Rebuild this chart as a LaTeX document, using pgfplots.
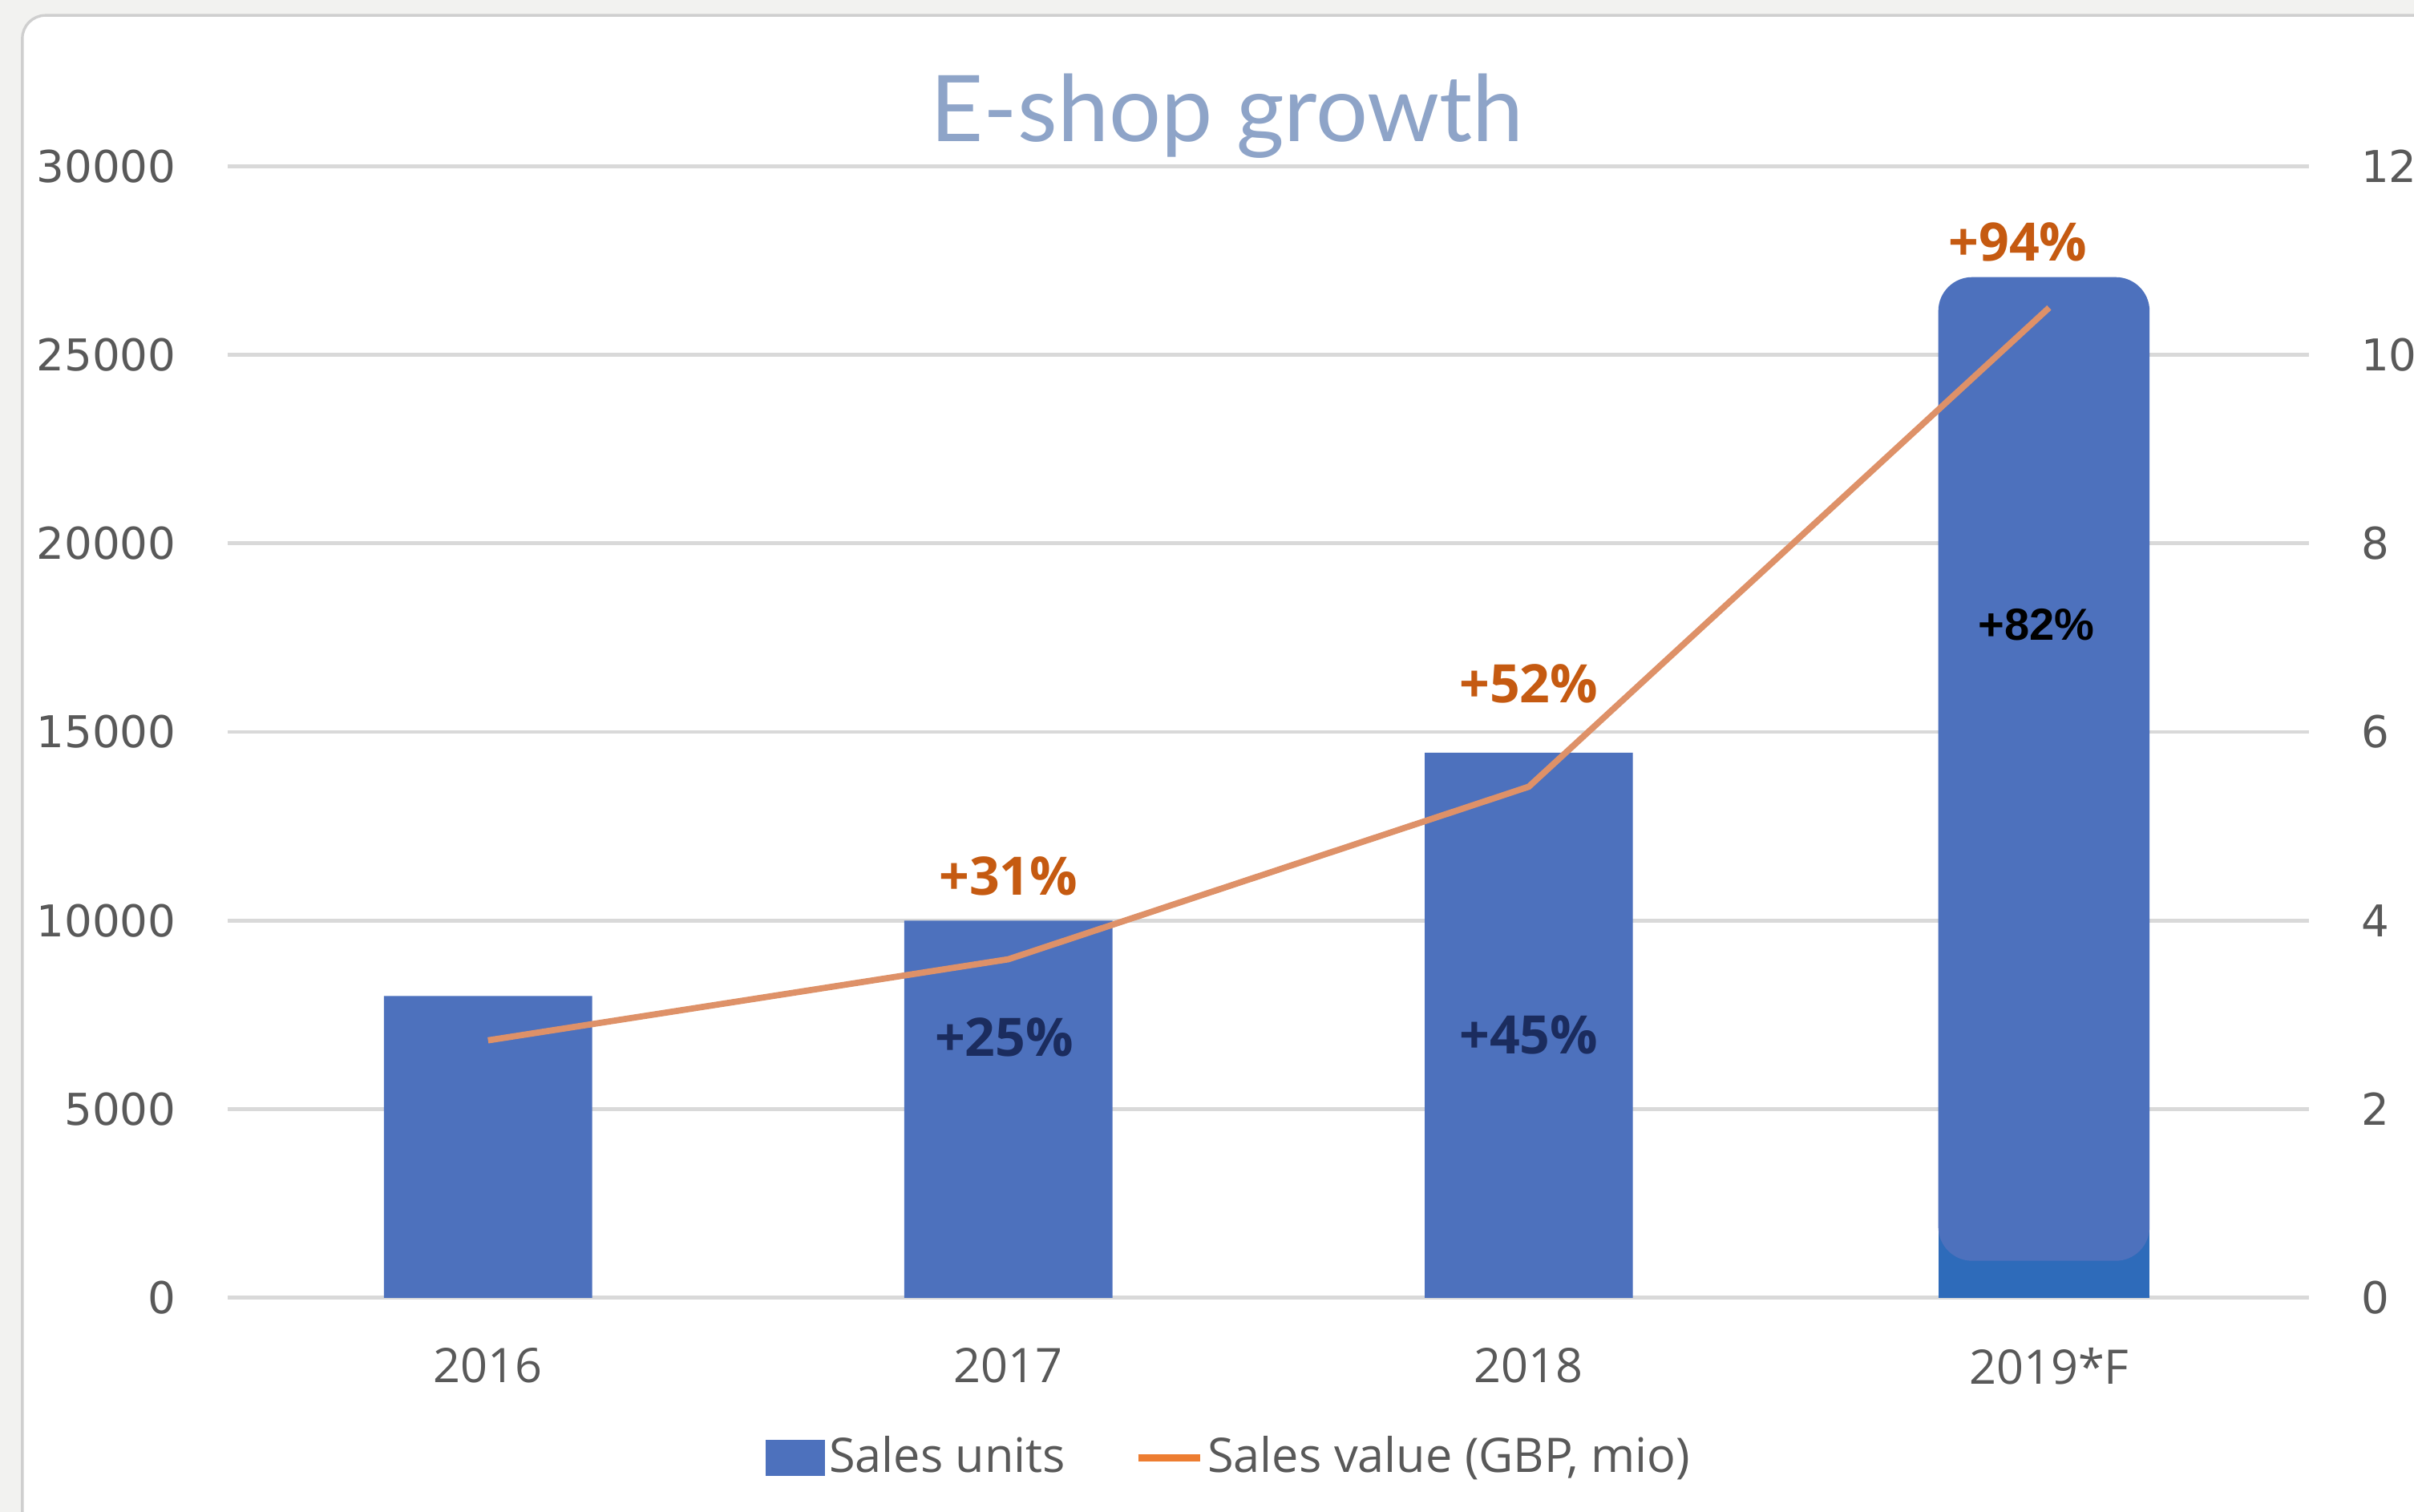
\documentclass[border=0pt]{standalone}
\usepackage{pgfplots}
\pgfplotsset{compat=1.18}
\usepackage{fontspec}
\setmainfont{Open Sans}
\newfontfamily\tickfont{DejaVu Sans}
\newfontfamily\titlefont{Lato}
\newfontfamily\arialfont{Liberation Sans}
\definecolor{barblue}{HTML}{4D71BD}
\definecolor{darkblue}{HTML}{2E6BBA}
\definecolor{linecol}{HTML}{DE9168}
\definecolor{legline}{HTML}{ED7D31}
\definecolor{pctorange}{HTML}{C55A11}
\definecolor{pctnavy}{HTML}{1B2C5E}
\definecolor{gridgray}{HTML}{D9D9D9}
\definecolor{txtgray}{HTML}{595959}
\definecolor{titlecol}{HTML}{8EA4C8}
\definecolor{bggray}{HTML}{F2F2F0}
\definecolor{framegray}{HTML}{CFCFCF}
\begin{document}
\begin{tikzpicture}
\path[use as bounding box] (0,0) rectangle (156.8mm,98.2mm);
\clip (0,0) rectangle (156.8mm,98.2mm);
\fill[bggray] (0,0) rectangle (156.8mm,98.2mm);
\filldraw[fill=white, draw=framegray, line width=0.5pt, rounded corners=1.5mm] (1.45mm,-10mm) rectangle (175mm,97.2mm);
\node[anchor=base, text=titlecol, font=\titlefont\fontsize{17}{20}\selectfont] at (79.7mm,89.0mm) {E-shop growth};
\begin{axis}[
  at={(14.8mm,13.9mm)}, anchor=south west,
  scale only axis, width=135.2mm, height=73.5mm,
  xmin=-0.5, xmax=3.5, ymin=0, ymax=30000,
  xtick={0,1,2,3}, xticklabels={2016,2017,2018,2019*F},
  ytick={0,5000,10000,15000,20000,25000,30000},
  scaled y ticks=false,
  /pgf/number format/assume math mode=true,
  yticklabel={\pgfmathprintnumber[fixed,1000 sep={}]{\tick}},
  axis line style={draw=none}, major tick length=0pt,
  ymajorgrids, grid style={color=gridgray, line width=0.7pt},
  yticklabel style={font=\tickfont\fontsize{8.1}{9}\selectfont, text=txtgray, inner sep=0pt, anchor=east, xshift=-3.3mm},
  xticklabel style={font=\fontsize{8.8}{10}\selectfont, text=txtgray, inner sep=0pt, anchor=north, yshift=-3.2mm},
  legend columns=2,
  legend style={at={(axis description cs:0.4815,-0.1415)}, anchor=center, draw=none, fill=none,
    font=\fontsize{8.8}{10}\selectfont, text=txtgray, inner sep=0pt,
    nodes={inner sep=0.3mm},
    /tikz/every even column/.append style={column sep=4.2mm}},
]
\addlegendimage{legend image code/.code={\fill[barblue] (0mm,-1.1mm) rectangle (3.7mm,1.1mm);}}
\addlegendentry{Sales units}
\addlegendimage{legend image code/.code={\draw[legline, line width=1.2pt] (0mm,0mm) -- (4.0mm,0mm);}}
\addlegendentry{Sales value (GBP, mio)}
\addplot[ybar, bar width=0.4, bar shift=0pt, fill=barblue, draw=none, forget plot] coordinates {(0,8000) (1,10000) (2,14450)};
\addplot[ybar, bar width=0.405, bar shift=0pt, fill=darkblue, draw=none, forget plot] coordinates {(2.99,2500)};
\addplot[fill=barblue, draw=none, rounded corners=2.2mm, forget plot] coordinates {(2.787,980) (2.787,27060) (3.193,27060) (3.193,980)} -- cycle;
\node[text=pctorange, font=\bfseries\fontsize{9.8}{11}\selectfont] at (axis cs:1,11180) {+31\%};
\node[text=pctorange, font=\bfseries\fontsize{9.8}{11}\selectfont] at (axis cs:2,16290) {+52\%};
\node[text=pctorange, font=\bfseries\fontsize{9.8}{11}\selectfont] at (axis cs:2.94,28000) {+94\%};
\node[text=pctnavy, font=\bfseries\fontsize{9.8}{11}\selectfont] at (axis cs:0.992,6900) {+25\%};
\node[text=pctnavy, font=\bfseries\fontsize{9.8}{11}\selectfont] at (axis cs:2,6980) {+45\%};
\node[text=black, font=\arialfont\bfseries\fontsize{8.3}{10}\selectfont] at (axis cs:2.976,17840) {+82\%};
\end{axis}
\begin{axis}[
  at={(14.8mm,13.9mm)}, anchor=south west,
  scale only axis, width=135.2mm, height=73.5mm,
  xmin=-0.5, xmax=3.5, ymin=0, ymax=12,
  hide x axis,
  ytick={0,2,4,6,8,10,12},
  yticklabel pos=right,
  /pgf/number format/assume math mode=true,
  axis line style={draw=none}, major tick length=0pt,
  yticklabel style={font=\tickfont\fontsize{8.1}{9}\selectfont, text=txtgray, inner sep=0pt, anchor=west, xshift=3.3mm},
]
\addplot[linecol, line width=1.15pt, mark=none] coordinates {(0,2.73) (1,3.59) (2,5.42) (3,10.50)};
\end{axis}
\end{tikzpicture}
\end{document}
